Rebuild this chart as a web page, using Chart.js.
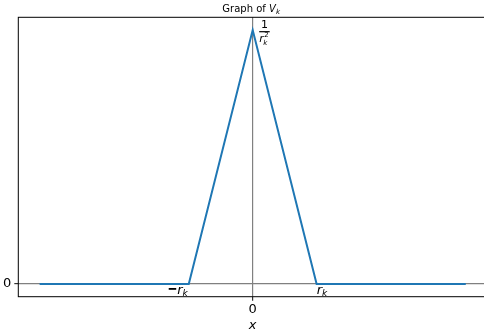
<!DOCTYPE html>
<html>
<head>
<meta charset="utf-8">
<script src="https://cdn.jsdelivr.net/npm/chart.js@4.4.0/dist/chart.umd.min.js"></script>
<style>
  html, body { margin: 0; padding: 0; background: #fff; overflow: hidden; }
  #wrap { width: 490px; height: 333px; }
</style>
</head>
<body>
<div id="wrap"><canvas id="chart"></canvas></div>
<script>
// Triangle V_k: zero outside [-r_k, r_k], peak 1/r_k^2 at x = 0 (r_k = 0.3)
const xValues = [-1, -0.3, 0, 0.3, 1];
const vValues = [0, 0, 11.11, 0, 0];
const xTicks = [0];
const yTicks = [0];
const rk = 0.3;
const peak = 11.11;

const FONT = '"DejaVu Sans", sans-serif';

// draw a run of pieces: {t, it, size, dy} or {bar, w, h, dy}
function drawRun(ctx, parts, x, y, align) {
  let total = 0;
  parts.forEach(p => {
    if (p.bar) { total += p.w + (p.gap || 0); return; }
    ctx.font = (p.it ? 'italic ' : '') + p.size + 'px ' + FONT;
    p.w = ctx.measureText(p.t).width;
    total += p.w + (p.gap || 0);
  });
  let cx = align === 'right' ? x - total : align === 'center' ? x - total / 2 : x;
  ctx.textBaseline = 'alphabetic';
  ctx.textAlign = 'left';
  parts.forEach(p => {
    if (p.bar) {
      ctx.fillRect(cx, y + p.dy, p.w, p.h);
    } else {
      ctx.font = (p.it ? 'italic ' : '') + p.size + 'px ' + FONT;
      ctx.fillText(p.t, cx, y + (p.dy || 0));
    }
    cx += p.w + (p.gap || 0);
  });
}

const decor = {
  id: 'decor',
  afterDraw(chart) {
    const { ctx, chartArea: a, scales: { x, y } } = chart;
    ctx.save();
    ctx.strokeStyle = '#000';
    ctx.lineWidth = 1;
    ctx.strokeRect(a.left, a.top, a.right - a.left, a.bottom - a.top);
    ctx.fillStyle = '#000';

    // title
    drawRun(ctx, [
      { t: 'Graph of ', size: 10 },
      { t: 'V', it: true, size: 10 },
      { t: 'k', it: true, size: 7, dy: 2 }
    ], (a.left + 484) / 2, 12, 'center');

    const y0 = y.getPixelForValue(0);
    // -r_k and r_k
    drawRun(ctx, [
      { bar: true, w: 7.5, h: 1.8, dy: -6, gap: 1 },
      { t: 'r', it: true, size: 13 },
      { t: 'k', it: true, size: 9, dy: 2.5 }
    ], x.getPixelForValue(-rk) - 1, y0 + 10, 'right');
    drawRun(ctx, [
      { t: 'r', it: true, size: 13 },
      { t: 'k', it: true, size: 9, dy: 2.5 }
    ], x.getPixelForValue(rk), y0 + 10, 'left');

    // 1 / r_k^2 next to the peak
    const px = x.getPixelForValue(0) + 6.5;
    const py = y.getPixelForValue(peak);
    const barW = 10.5;
    drawRun(ctx, [{ t: '1', size: 11 }], px + barW / 2, py - 2, 'center');
    ctx.fillRect(px, py + 1, barW, 1.2);
    ctx.font = 'italic 11px ' + FONT;
    ctx.fillText('r', px, py + 11.5);
    ctx.font = '7px ' + FONT;
    ctx.fillText('2', px + 5, py + 6.7);
    ctx.font = 'italic 7px ' + FONT;
    ctx.fillText('k', px + 4, py + 15);
    ctx.restore();
  }
};

new Chart(document.getElementById('chart'), {
  type: 'scatter',
  data: {
    datasets: [{
      data: xValues.map((v, i) => ({ x: v, y: vValues[i] })),
      showLine: true,
      borderColor: '#1f77b4',
      borderWidth: 2,
      pointRadius: 0,
      tension: 0
    }]
  },
  options: {
    responsive: true,
    maintainAspectRatio: false,
    animation: false,
    layout: { padding: { top: 17.3, right: 2.9, left: 0, bottom: 0 } },
    plugins: { legend: { display: false }, tooltip: { enabled: false } },
    scales: {
      x: {
        type: 'linear',
        min: -1.1,
        max: 1.1,
        afterBuildTicks: ax => { ax.ticks = xTicks.map(v => ({ value: v })); },
        afterFit: ax => { ax.height = 36.3; },
        ticks: { color: '#000', font: { family: FONT, size: 13 }, padding: 1, maxRotation: 0 },
        grid: { color: '#808080', lineWidth: 1.2, tickColor: '#333', tickLength: 4 },
        border: { display: false },
        title: {
          display: true, text: 'x', color: '#000', padding: { top: 0, bottom: 0 },
          font: { family: FONT, size: 13, style: 'italic' }
        }
      },
      y: {
        type: 'linear',
        min: -0.556,
        max: 11.67,
        afterBuildTicks: ax => { ax.ticks = yTicks.map(v => ({ value: v })); },
        afterFit: ax => { ax.width = 18.3; },
        ticks: { color: '#000', font: { family: FONT, size: 13 }, padding: 3 },
        grid: { color: '#808080', lineWidth: 1.2, tickColor: '#333', tickLength: 4 },
        border: { display: false }
      }
    }
  },
  plugins: [decor]
});
</script>
</body>
</html>
